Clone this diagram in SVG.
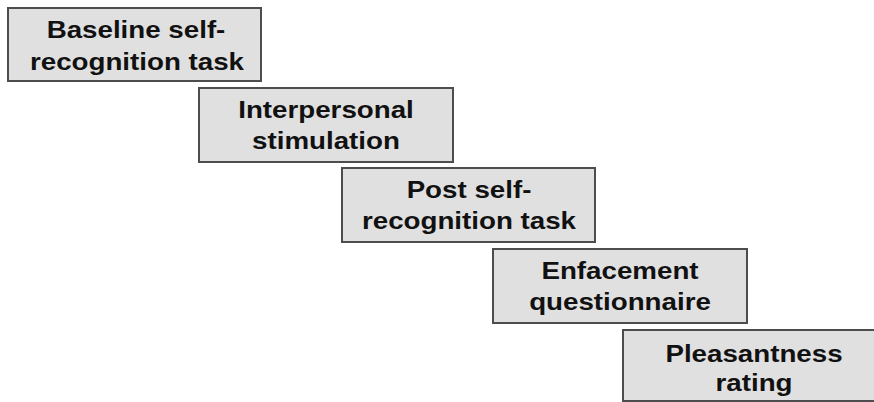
<svg xmlns="http://www.w3.org/2000/svg" width="874" height="402" viewBox="0 0 874 402">
<style>
.box{fill:#e0e0e0;stroke:#4d4d4d;stroke-width:2}
.t{font-family:"Liberation Sans",Arial,sans-serif;font-weight:bold;font-size:23.5px;fill:#111;text-anchor:middle}
</style>
<rect width="874" height="402" fill="#fff"/>
<g id="connectors"></g>
<g id="n1">
<rect class="box" x="8" y="8" width="253" height="73"/>
<text class="t" transform="translate(136,38) scale(1.18,1)">Baseline self-</text>
<text class="t" transform="translate(137,69.5) scale(1.18,1)">recognition task</text>
</g>
<g id="n2">
<rect class="box" x="199" y="88" width="254" height="74"/>
<text class="t" transform="translate(326,118) scale(1.18,1)">Interpersonal</text>
<text class="t" transform="translate(326,149) scale(1.18,1)">stimulation</text>
</g>
<g id="n3">
<rect class="box" x="342" y="168" width="253" height="74"/>
<text class="t" transform="translate(469,198) scale(1.18,1)">Post self-</text>
<text class="t" transform="translate(469,229) scale(1.18,1)">recognition task</text>
</g>
<g id="n4">
<rect class="box" x="493" y="249" width="254" height="74"/>
<text class="t" transform="translate(620,279) scale(1.18,1)">Enfacement</text>
<text class="t" transform="translate(620,310) scale(1.18,1)">questionnaire</text>
</g>
<g id="n5">
<rect class="box" x="623" y="330" width="256" height="71"/>
<text class="t" transform="translate(754,361.5) scale(1.18,1)">Pleasantness</text>
<text class="t" transform="translate(754,391) scale(1.18,1)">rating</text>
</g>
</svg>
